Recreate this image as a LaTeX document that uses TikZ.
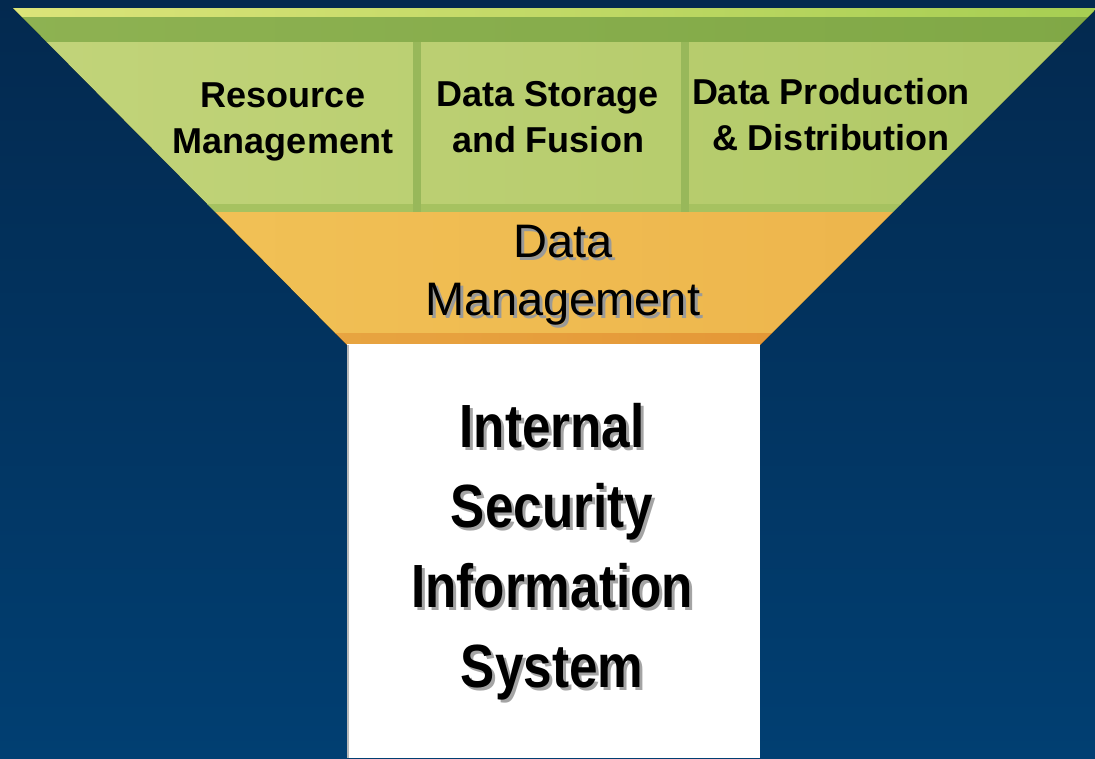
\documentclass[tikz,border=0pt]{standalone}
\usepackage{fontspec}
\setmainfont{Liberation Sans}
\newfontfamily\narrowfont{Liberation Sans}[FakeStretch=0.84]
\definecolor{bgtop}{HTML}{03294F}
\definecolor{bgbot}{HTML}{013F72}
\definecolor{gline1}{HTML}{DCE47A}
\definecolor{gline2}{HTML}{A6CE52}
\definecolor{gdark1}{HTML}{8EB252}
\definecolor{gdark2}{HTML}{80A846}
\definecolor{glight1}{HTML}{C2D47A}
\definecolor{glight2}{HTML}{B0C866}
\definecolor{gbot}{HTML}{A6C260}
\definecolor{gdiv}{HTML}{98B85A}
\definecolor{or1}{HTML}{F2C458}
\definecolor{or2}{HTML}{ECB24A}
\definecolor{orb1}{HTML}{EAAE48}
\definecolor{orb2}{HTML}{E28E30}
\definecolor{shO}{HTML}{9A9A98}
\definecolor{shW}{HTML}{A4A4A4}
\newcommand{\dropsh}[2]{%
  \makebox[0pt][l]{\hspace{3pt}\raisebox{-3pt}{\color{#1}#2}}%
  #2}
\tikzset{
  hdr/.style={anchor=base, inner sep=0pt, text=black, font=\bfseries\fontsize{36}{46}\selectfont},
  dmtxt/.style={anchor=base, inner sep=0pt, text=black, font=\fontsize{47}{58}\selectfont},
  istxt/.style={anchor=base, inner sep=0pt, text=black, font=\narrowfont\bfseries\fontsize{61}{80.3}\selectfont},
}
\begin{document}
\begin{tikzpicture}[x=1pt,y=-1pt]
\useasboundingbox (0,0) rectangle (1095,758);
\fill[top color=bgtop, bottom color=bgbot] (0,0) rectangle (1095,758);
\begin{scope}
  \clip (13,8) -- (1097,8) -- (760,345) -- (347,345) -- cycle;
  \fill[left color=gline1, right color=gline2] (0,8) rectangle (1100,17);
  \fill[left color=gdark1, right color=gdark2] (0,17) rectangle (1100,42);
  \fill[left color=glight1, right color=glight2] (0,42) rectangle (1100,204);
  \fill[gbot] (0,204) rectangle (1100,212);
  \fill[gdiv] (413,42) rectangle (421,212);
  \fill[gdiv] (681,42) rectangle (689,212);
  \fill[left color=or1, right color=or2] (0,212) rectangle (1100,333);
  \fill[left color=orb1, right color=orb2] (0,333) rectangle (1100,345);
\end{scope}
\fill[white] (347,344) rectangle (760,758);
\draw[gray!55, line width=1.5pt] (347.75,345) -- (347.75,758);
% header texts
\node[hdr] (res) at (283,107) {\begin{tabular}[t]{@{}c@{}}Resource\\Management\end{tabular}};
\node[hdr] (dsf) at (548,106) {\begin{tabular}[t]{@{}c@{}}Data Storage\\and Fusion\end{tabular}};
\node[hdr] (dpd) at (831,104) {\begin{tabular}[t]{@{}c@{}}Data Production\\\& Distribution\end{tabular}};
% data management
\node[dmtxt] (dm) at (563,257) {\dropsh{shO}{\begin{tabular}[t]{@{}c@{}}Data\\Management\end{tabular}}};
% ISIS
\node[istxt] (isis) at (552,447) {\dropsh{shW}{\begin{tabular}[t]{@{}c@{}}Internal\\Security\\Information\\System\end{tabular}}};
\end{tikzpicture}
\end{document}
